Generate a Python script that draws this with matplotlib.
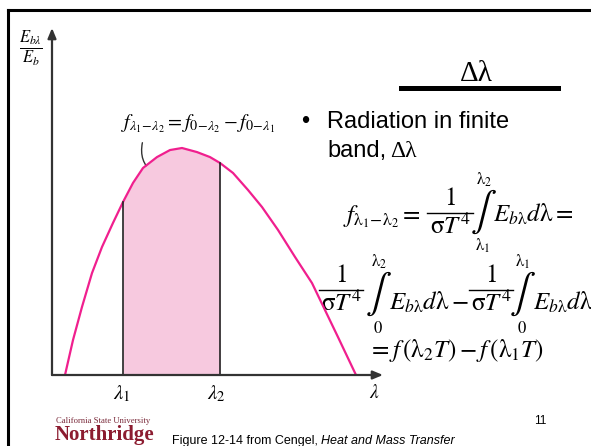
import numpy as np
import matplotlib
matplotlib.use("Agg")
import matplotlib.pyplot as plt
from matplotlib.lines import Line2D

plt.rcParams['mathtext.fontset'] = 'stix'
plt.rcParams['font.family'] = ['Liberation Sans', 'DejaVu Sans']

# blackbody-like emissive power curve, E_bλ/E_b vs λ (arbitrary units)
lam = [0.26, 0.42, 0.60, 0.80, 1.00, 1.22, 1.42, 1.62, 1.82, 2.10, 2.36, 2.60,
       2.90, 3.16, 3.36, 3.62, 3.92, 4.20, 4.52, 4.86, 5.20, 5.46, 5.72, 6.08]
ebl = [0.0, 0.154, 0.300, 0.449, 0.564, 0.670, 0.762, 0.846, 0.912, 0.960, 0.991, 1.0,
       0.982, 0.960, 0.934, 0.890, 0.815, 0.740, 0.639, 0.520, 0.405, 0.286, 0.167, 0.0]
lam1, lam2 = 1.42, 3.36

PINK = '#f01f8e'
FILL = '#f7c9df'
AXIS = '#333333'

W, H = 591, 446
fig = plt.figure(figsize=(W / 100, H / 100), dpi=100)

# page layer in pixel units for slide text
page = fig.add_axes([0, 0, 1, 1])
page.set_xlim(0, W)
page.set_ylim(H, 0)
page.axis('off')

# slide frame
page.add_line(Line2D([8, 8], [10, H + 5], color='black', lw=2.2))
page.add_line(Line2D([8, W + 5], [10, 10], color='black', lw=2.2))

# diagram axes
x0, x1, y0, y1 = 52, 383, 375, 28
ax = fig.add_axes([x0 / W, (H - y0) / H, (x1 - x0) / W, (y0 - y1) / H])
ax.set_xlim(0, (x1 - x0) / 50)
ax.set_ylim(0, (y0 - y1) / 227)
ax.axis('off')
ax.patch.set_alpha(0)

lam_a = np.array(lam)
ebl_a = np.array(ebl)
band = (lam_a >= lam1) & (lam_a <= lam2)
ax.fill_between(lam_a[band], 0, ebl_a[band], color=FILL, lw=0)
ax.plot(lam_a, ebl_a, color=PINK, lw=1.6, solid_joinstyle='round')
for lv in (lam1, lam2):
    top = ebl_a[lam_a == lv][0]
    ax.plot([lv, lv], [0, top], color='#222222', lw=1.2)

arrow = dict(arrowstyle='-|>,head_length=0.6,head_width=0.25', color=AXIS, lw=1.6,
             shrinkA=0, shrinkB=0)
ax.annotate('', xy=(0, 1), xytext=(0, 0), xycoords='axes fraction', arrowprops=arrow)
ax.annotate('', xy=(1, 0), xytext=(0, 0), xycoords='axes fraction', arrowprops=arrow)

# axis labels of the diagram
page.text(31, 48, r'$\frac{E_{b\lambda}}{E_b}$', fontsize=17, ha='center', va='center')
page.text(122, 394, r'$\lambda_1$', fontsize=15, ha='center', va='center')
page.text(216, 394, r'$\lambda_2$', fontsize=15, ha='center', va='center')
page.text(374, 393, r'$\lambda$', fontsize=14, ha='center', va='center')
page.text(198, 124, r'$f_{\lambda_1\!-\!\lambda_2} = f_{0\!-\!\lambda_2} - f_{0\!-\!\lambda_1}$',
          fontsize=14.5, ha='center', va='center')
page.annotate('', xy=(156, 175), xytext=(143, 140),
              arrowprops=dict(arrowstyle='-|>,head_length=0.5,head_width=0.2',
                              color='#333333', lw=1.0,
                              connectionstyle='arc3,rad=0.35'))

# title and bullet
page.text(476, 74, 'Δλ', fontsize=21, family='Liberation Serif', ha='center', va='center')
page.add_line(Line2D([401, 558], [87.5, 87.5], color='black', lw=3.6))
page.text(301, 128, '•', fontsize=17, va='baseline')
page.text(327, 128, 'Radiation in finite', fontsize=17, va='baseline')
page.text(327, 157, 'band,', fontsize=17, va='baseline')
page.text(390, 157, 'Δλ', fontsize=17, family='Liberation Serif', va='baseline')

EQ = 18


def frac(xc, ybar, half):
    page.text(xc, ybar - 3, r'$1$', fontsize=EQ, ha='center', va='bottom')
    page.add_line(Line2D([xc - half, xc + half], [ybar, ybar], color='black', lw=1.0))
    page.text(xc, ybar + 1, r'$\mathrm{\sigma}T^4$', fontsize=EQ, ha='center', va='top')


def integral(xc, ymid, upper, lower):
    page.text(xc, ymid, r'$\int$', fontsize=EQ + 10, ha='center', va='center')
    page.text(xc + 1, ymid - 32, upper, fontsize=12, ha='center', va='center')
    page.text(xc, ymid + 34, lower, fontsize=12, ha='center', va='center')


# line 1
page.text(343, 222, r'$f_{\mathrm{\lambda}_1\!-\!\mathrm{\lambda}_2} =$', fontsize=EQ, va='baseline')
frac(450, 213, 23)
integral(483, 212, r'$\mathrm{\lambda}_2$', r'$\mathrm{\lambda}_1$')
page.text(493, 222, r'$E_{b\mathrm{\lambda}}d\mathrm{\lambda} =$', fontsize=EQ, va='baseline')

# line 2
frac(341, 290, 22)
integral(378, 294, r'$\mathrm{\lambda}_2$', r'$0$')
page.text(389, 310, r'$E_{b\mathrm{\lambda}}d\mathrm{\lambda} -$', fontsize=EQ, va='baseline')
frac(491, 290, 22)
integral(522, 294, r'$\mathrm{\lambda}_1$', r'$0$')
page.text(533, 310, r'$E_{b\mathrm{\lambda}}d\mathrm{\lambda}$', fontsize=EQ, va='baseline')

# line 3
page.text(368, 357, r'$= f\,\left(\mathrm{\lambda}_2 T\right) - f\,\left(\mathrm{\lambda}_1 T\right)$',
          fontsize=EQ, va='baseline')

# footer
page.text(56, 423, 'California State University', fontsize=6.2,
          family='Liberation Serif', color='#7a2a3a', va='baseline')
page.text(55, 440, 'Northridge', fontsize=15, family='Liberation Serif',
          weight='bold', color='#8c1c30', va='baseline')
page.text(172, 444, 'Figure 12-14 from Cengel, ', fontsize=9, va='baseline')
page.text(321, 444, 'Heat and Mass Transfer', fontsize=9, style='italic', va='baseline')
page.text(540, 424, '11', fontsize=8.5, ha='center', va='baseline')

fig.savefig('out.png', dpi=100)
